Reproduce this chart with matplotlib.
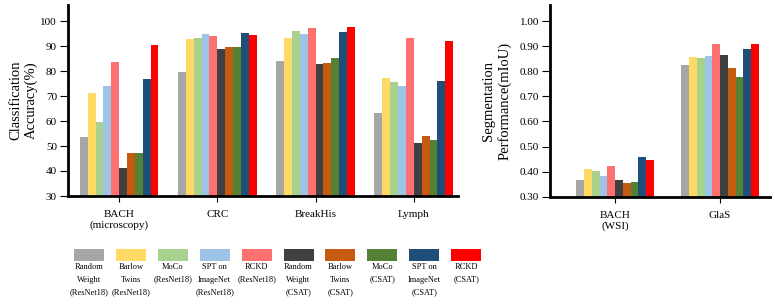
import numpy as np
import matplotlib
matplotlib.use("Agg")
import matplotlib.pyplot as plt
from matplotlib.patches import Rectangle

plt.rcParams['font.family'] = ['Liberation Serif', 'DejaVu Serif']

# ---- data ----
methods = [
    "Random\nWeight\n(ResNet18)", "Barlow\nTwins\n(ResNet18)", "MoCo\n(ResNet18)",
    "SPT on\nImageNet\n(ResNet18)", "RCKD\n(ResNet18)", "Random\nWeight\n(CSAT)",
    "Barlow\nTwins\n(CSAT)", "MoCo\n(CSAT)", "SPT on\nImageNet\n(CSAT)", "RCKD\n(CSAT)",
]
colors = ['#A6A6A6', '#FFD966', '#A9D18E', '#9DC3E6', '#FF7070',
          '#404040', '#C55A11', '#548235', '#1F4E79', '#FF0000']

cls_datasets = ["BACH\n(microscopy)", "CRC", "BreakHis", "Lymph"]
bach_micro = [53.7, 71.1, 59.5, 74.0, 83.5, 41.1, 47.1, 47.3, 76.7, 90.4]
crc = [79.7, 92.8, 93.1, 94.7, 94.1, 88.8, 89.5, 89.7, 95.1, 94.4]
breakhis = [84.0, 93.1, 96.0, 94.8, 97.1, 82.9, 83.1, 85.1, 95.5, 97.5]
lymph = [63.1, 77.1, 75.5, 74.1, 93.1, 51.1, 54.0, 52.4, 76.1, 92.0]

seg_datasets = ["BACH\n(WSI)", "GlaS"]
bach_wsi = [0.366, 0.409, 0.402, 0.381, 0.424, 0.366, 0.355, 0.360, 0.458, 0.445]
glas = [0.825, 0.857, 0.854, 0.860, 0.908, 0.866, 0.812, 0.776, 0.888, 0.908]

cls_values = np.array([bach_micro, crc, breakhis, lymph])
seg_values = np.array([bach_wsi, glas])

W, H = 775, 306
fig = plt.figure(figsize=(W / 100, H / 100), dpi=100)


def px_axes(left, right, top, bottom):
    return fig.add_axes([left / W, (H - bottom) / H, (right - left) / W, (bottom - top) / H])


def style_axes(ax):
    for s in ['top', 'right']:
        ax.spines[s].set_visible(False)
    for s in ['left', 'bottom']:
        ax.spines[s].set_linewidth(2.0)
    ax.tick_params(axis='y', direction='out', length=6, width=0.8, pad=2, labelsize=8)
    ax.tick_params(axis='x', direction='out', length=4, width=0.8, pad=6, labelsize=8)


def draw_groups(ax, values, width):
    n = values.shape[1]
    x = np.arange(values.shape[0])
    for k in range(n):
        offs = (k - (n - 1) / 2) * width
        ax.bar(x + offs, values[:, k], width=width, color=colors[k], linewidth=0)
    return x


# ---- classification ----
ax1 = px_axes(68, 458, 5, 196)
x1 = draw_groups(ax1, cls_values, 0.08)
ax1.set_xlim(-0.52, 3.45)
ax1.set_ylim(30, 106.4)
ax1.set_yticks(np.arange(30, 101, 10))
ax1.set_xticks(x1)
ax1.set_xticklabels(cls_datasets)
style_axes(ax1)
ax1.set_ylabel("Classification\nAccuracy(%)", fontsize=10.5, labelpad=2)

# ---- segmentation ----
ax2 = px_axes(550, 770, 5, 196.7)
x2 = draw_groups(ax2, seg_values, 0.074)
ax2.set_xlim(-0.62, 1.476)
ax2.set_ylim(0.30, 1.064)
ax2.set_yticks(np.arange(0.30, 1.001, 0.10))
ax2.set_yticklabels([f"{v:.2f}" for v in np.arange(0.30, 1.001, 0.10)])
ax2.set_xticks(x2)
ax2.set_xticklabels(seg_datasets)
style_axes(ax2)
ax2.set_ylabel("Segmentation\nPerformance(mIoU)", fontsize=10.5, labelpad=6)

# ---- legend (label under each swatch) ----
x0, step = 89, 41.9
for k, (lab, c) in enumerate(zip(methods, colors)):
    cx = x0 + k * step
    fig.add_artist(Rectangle(((cx - 15) / W, (H - 261) / H), 30 / W, 12 / H,
                             transform=fig.transFigure, facecolor=c, edgecolor='none'))
    fig.text(cx / W, (H - 263) / H, lab, ha='center', va='top',
             fontsize=6.0, linespacing=1.75)

fig.savefig("out.png", dpi=100)
